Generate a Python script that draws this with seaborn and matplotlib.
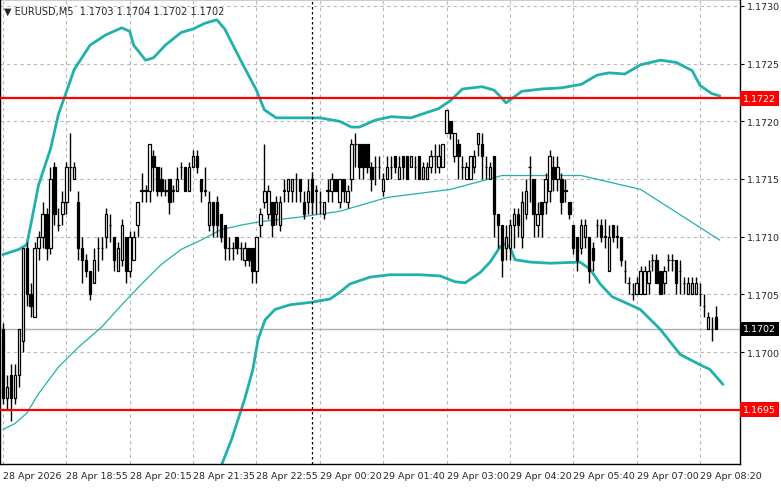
import numpy as np
import pandas as pd
import matplotlib
matplotlib.use("Agg")
import matplotlib.pyplot as plt
import seaborn as sns

# candle data, pips relative to 1.1700 (1 pip = 0.0001)
o_pips = [2, -4, -2, -4, -2, 1, 9, 5, 3, 9, 10, 12, 9, 16, 11, 12, 13, 16, 15, 13,
          9, 8, 7, 6, 9, 9, 10, 11, 10, 7, 8, 10, 7, 8, 11, 14, 14, 14, 17, 16,
          15, 14, 15, 14, 14, 16, 16, 14, 16, 17, 15, 14, 11, 13, 13, 12, 11, 9, 9, 10,
          9, 8, 9, 9, 7, 11, 13, 12, 13, 12, 11, 14, 14, 14, 15, 15, 13, 13, 15, 14,
          13, 12, 14, 14, 15, 13, 15, 13, 15, 18, 18, 18, 18, 16, 16, 16, 14, 15, 16, 17,
          15, 17, 17, 16, 16, 17, 15, 15, 16, 17, 16, 16, 19, 20, 17, 18, 16, 15, 15, 16,
          18, 18, 16, 15, 17, 12, 11, 9, 9, 11, 12, 10, 12, 16, 15, 11, 13, 13, 14, 16,
          15, 15, 14, 13, 11, 10, 9, 10, 10, 9, 11, 11, 10, 7, 11, 10, 10, 7, 6, 5,
          5, 5, 5, 6, 8, 8, 7, 6, 8, 8, 8, 7, 6, 5, 5, 5, 5, 4, 2, 2, 3]
c_pips = [-4, -3, -4, -2, 2, 9, 5, 4, 9, 10, 12, 9, 15, 12, 11, 13, 16, 16, 16, 9,
          8, 7, 5, 8, 9, 9, 12, 11, 8, 9, 11, 7, 10, 10, 13, 14, 14, 18, 16, 14,
          14, 14, 13, 14, 15, 16, 14, 16, 17, 16, 14, 14, 13, 11, 11, 10, 9, 9, 9, 9,
          9, 9, 8, 7, 10, 12, 14, 14, 11, 13, 13, 14, 15, 15, 15, 14, 12, 14, 13, 14,
          13, 13, 14, 15, 14, 15, 14, 14, 18, 18, 16, 16, 16, 15, 16, 16, 15, 16, 16, 16,
          16, 16, 15, 17, 16, 15, 16, 16, 17, 17, 17, 18, 21, 19, 19, 17, 16, 16, 17, 17,
          19, 17, 16, 16, 12, 11, 8, 10, 11, 12, 11, 13, 14, 16, 12, 12, 12, 15, 17, 15,
          16, 13, 14, 12, 9, 8, 11, 11, 7, 8, 11, 10, 10, 10, 10, 10, 8, 7, 6, 5,
          6, 7, 7, 7, 8, 6, 5, 7, 8, 8, 6, 7, 6, 6, 6, 6, 5, 4, 3, 2, 2]
h_pips = [2.5, -2, -1, -1, 2, 9, 9.5, 6, 9.5, 10.5, 13, 12.5, 16, 16.5, 12.5, 14, 16.5, 19, 16.5, 14,
          10, 8.5, 7, 9, 10, 10, 12.5, 12, 10, 9.5, 11.5, 10, 10.5, 10.5, 13, 15.5, 14.5, 18, 17.5, 16,
          16, 15, 15, 14.5, 16, 16.5, 16, 16.5, 17.5, 17.5, 15, 16, 14, 13, 13.5, 12, 11, 10, 9.5, 10,
          9.5, 9.5, 9, 9, 10, 12.5, 18, 14.5, 13, 13.5, 13.5, 15, 15, 15, 15.5, 15, 14, 15, 15.5, 14.5,
          14, 13, 15, 15.5, 15, 15, 15, 14.5, 18.5, 19, 18, 18, 18, 16.5, 17, 17, 15.5, 17, 17, 17,
          17, 17, 17, 17, 17, 17, 16.5, 16.5, 17.5, 18, 18, 18, 21, 20, 19, 18.5, 17, 16.5, 17, 17.5,
          19, 19, 17, 16.5, 17, 12, 11, 11, 11.5, 12.5, 12.5, 14, 15, 17, 15, 13, 13, 15.5, 17.5, 17,
          17, 15.5, 15, 13, 11, 10, 11.5, 11.5, 10, 9.5, 11.5, 11.5, 11.5, 11, 11, 11, 10, 8, 6.5, 6,
          6.5, 7.5, 7.5, 8, 8.5, 8.5, 7, 7.5, 8.5, 8.5, 8, 8, 6.5, 6.5, 6.5, 6.5, 6, 5, 3.5, 3, 4]
l_pips = [-4.5, -5, -6, -4.5, -3, 0, 4, 3, 3, 8, 9, 8, 8.5, 11, 10.5, 11, 12, 14, 15, 8,
          6, 6.5, 4.5, 6, 7, 8, 9, 9.5, 7, 7, 7.5, 6, 6.5, 8, 10, 13, 13, 13, 14, 13.5,
          13.5, 13.5, 12, 13, 14, 15, 14, 14, 16, 15.5, 13, 13.5, 10.5, 10, 10, 9.5, 8, 8, 8, 8.5,
          8, 7.5, 7.5, 6, 6, 10, 12.5, 11.5, 10, 11, 10.5, 13, 13, 13, 13, 13, 11.5, 12, 12, 12,
          12, 11.5, 13, 13, 14, 12.5, 13, 12.5, 14, 16, 15, 15, 15.5, 14, 14.5, 15, 13.5, 15, 15, 15.5,
          15, 15, 15, 16, 15, 15, 15, 15, 15.5, 15.5, 15.5, 16, 19, 18.5, 16.5, 15, 15, 15, 15, 15.5,
          17, 15, 15, 15, 10, 9, 6.5, 8, 8, 9, 10, 9, 11.5, 13, 10, 10, 10, 12, 13, 14,
          14, 12, 13, 11.5, 8.5, 7, 8.5, 9, 6, 7, 10, 9.5, 9, 7, 9.5, 9, 7.5, 6, 5, 4.5,
          5, 5, 5, 5, 7, 6, 5, 5, 7, 7, 5, 5, 5, 5, 5, 5, 4, 3, 2, 1, 2]

# Bollinger bands: (bar index, pips)
upper_bar = [0, 4, 6, 7, 9, 12, 14, 18, 22, 26, 30, 32, 33, 36, 38, 41, 45, 48, 51, 54,
             56, 60, 64, 66, 69, 75, 80, 85, 88, 90, 94, 98, 103, 110, 113, 116, 121, 124, 126, 127,
             129, 131, 136, 141, 146, 150, 153, 157, 161, 166, 170, 174, 176, 179, 181]
upper_pip = [8.45, 8.9, 9.3, 11.0, 14.5, 17.6, 20.6, 24.5, 26.6, 27.5, 28.1, 27.8, 26.6, 25.3, 25.5, 26.6, 27.7, 28.0, 28.5, 28.8,
             28.0, 25.3, 22.7, 21.0, 20.3, 20.3, 20.3, 20.0, 19.5, 19.5, 20.1, 20.4, 20.3, 21.1, 21.8, 22.8, 23.0, 22.7, 22.0, 21.6,
             22.1, 22.6, 22.8, 22.9, 23.2, 24.0, 24.2, 24.1, 24.9, 25.3, 25.1, 24.4, 23.1, 22.4, 22.2]
mid_bar = [0, 3, 6, 9, 14, 19, 25, 30, 35, 40, 45, 50, 55, 60, 65, 75, 85, 97, 113, 126,
           137, 146, 151, 161, 171, 181]
mid_pip = [-6.7, -6.2, -5.3, -3.6, -1.3, 0.4, 2.2, 4.1, 5.9, 7.6, 8.9, 9.7, 10.6, 11.0, 11.3, 11.7, 12.2, 13.4, 14.1, 15.3,
           15.3, 15.3, 14.9, 14.1, 11.9, 9.7]
lower_bar = [54.3, 55.3, 57.8, 61.1, 63.1, 64.4, 66.2, 68.7, 72.5, 77.5, 82.6, 85.1, 87.6, 92.7, 97.7, 105.3, 110.4, 114.1, 116.7, 120.5,
             123.0, 125.5, 126.8, 128.0, 129.3, 133.1, 138.1, 145.7, 148.2, 150.8, 153.8, 160.9, 165.9, 171.0, 176.0, 178.5, 181.8]
lower_pip = [-10.5, -9.7, -7.5, -4.0, -1.5, 1.1, 2.8, 3.7, 4.1, 4.3, 4.6, 5.2, 5.9, 6.5, 6.7, 6.7, 6.6, 6.1, 6.0, 6.9,
             7.8, 9.1, 9.4, 9.1, 8.0, 7.8, 7.7, 7.8, 7.2, 5.9, 4.8, 3.7, 2.0, -0.2, -1.1, -1.5, -2.8]

tick_bars = [0, 16, 32, 48, 64, 80, 96, 112, 128, 144, 160, 176]
tick_labels = ["28 Apr 2026", "28 Apr 18:55", "28 Apr 20:15", "28 Apr 21:35", "28 Apr 22:55",
               "29 Apr 00:20", "29 Apr 01:40", "29 Apr 03:00", "29 Apr 04:20", "29 Apr 05:40",
               "29 Apr 07:00", "29 Apr 08:20"]
price_ticks = [1.1700, 1.1705, 1.1710, 1.1715, 1.1720, 1.1725, 1.1730]
level_hi = 1.1722
level_lo = 1.1695
last_price = 1.1702

base = 1.1700
df = pd.DataFrame({"open": base + np.array(o_pips) / 1e4, "close": base + np.array(c_pips) / 1e4,
                   "high": base + np.array(h_pips) / 1e4, "low": base + np.array(l_pips) / 1e4})
df["bar"] = np.arange(len(df))

sns.set_style("white")
plt.rcParams["font.family"] = ["DejaVu Sans"]
fig = plt.figure(figsize=(7.81, 4.89), dpi=100)
ax = fig.add_axes([0.0, 24 / 489, 740 / 781, 1 - 24 / 489])

# grid
for p in np.arange(1.1690, 1.1731, 0.0005):
    ax.axhline(p, color="#b8b8b8", ls=(0, (3, 3)), lw=0.8, zorder=0)
for b in tick_bars:
    ax.axvline(b, color="#b8b8b8", ls=(0, (3, 3)), lw=0.8, zorder=0)

# bands
green = "#20b2aa"
sns.lineplot(x=upper_bar, y=base + np.array(upper_pip) / 1e4, ax=ax, color=green, lw=2, zorder=2)
sns.lineplot(x=mid_bar, y=base + np.array(mid_pip) / 1e4, ax=ax, color=green, lw=0.9, zorder=2)
sns.lineplot(x=lower_bar, y=base + np.array(lower_pip) / 1e4, ax=ax, color=green, lw=2, zorder=2)

# candles
ax.vlines(df["bar"], df["low"], df["high"], color="black", lw=1, zorder=3)
bull = df["close"] >= df["open"]
body_lo = np.minimum(df["open"], df["close"])
body_h = np.maximum((df["close"] - df["open"]).abs(), 0.000002)
ax.bar(df["bar"][bull], body_h[bull], bottom=body_lo[bull], width=0.62,
       color="white", edgecolor="black", lw=0.9, zorder=4)
ax.bar(df["bar"][~bull], body_h[~bull], bottom=body_lo[~bull], width=0.62,
       color="black", edgecolor="black", lw=0.9, zorder=4)

# levels
ax.axhline(last_price, color="#b0b0b0", lw=1, zorder=1)
ax.axhline(level_hi, color="red", lw=1.6, zorder=5)
ax.axhline(level_lo, color="red", lw=1.6, zorder=5)
ax.axvline(78, color="black", ls=(0, (2, 2)), lw=0.9, zorder=5)

fs = 6.8
ax.set_xlim(-0.75, 186.1)
ax.set_ylim(1.16903, 1.17306)
ax.yaxis.tick_right()
ax.set_yticks(price_ticks)
ax.set_yticklabels([f"{p:.4f}" for p in price_ticks], fontsize=fs)
ax.set_xticks(tick_bars)
ax.set_xticklabels(tick_labels, fontsize=fs, ha="left")
ax.tick_params(axis="both", length=3, pad=2, direction="out", color="black")
for s in ax.spines.values():
    s.set_color("black")
    s.set_linewidth(1)

box_x = 1.004
for val, fc, tc in [(level_hi, "red", "white"), (level_lo, "red", "white"), (last_price, "black", "white")]:
    ax.text(box_x, val, f"{val:.4f}", transform=ax.get_yaxis_transform(), fontsize=fs, color=tc,
            va="center", ha="left", bbox=dict(boxstyle="square,pad=0.3", fc=fc, ec="none"), zorder=10,
            clip_on=False)

ax.text(0.005, 0.985, "▼ EURUSD,M5  1.1703 1.1704 1.1702 1.1702", transform=ax.transAxes,
        fontsize=7, va="top", ha="left")

fig.savefig("out.png", dpi=100)
